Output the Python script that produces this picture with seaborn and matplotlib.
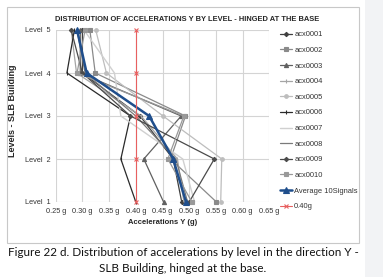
import numpy as np
import pandas as pd
import matplotlib
matplotlib.use("Agg")
import matplotlib.pyplot as plt
from matplotlib.patches import Rectangle
from matplotlib.lines import Line2D
import seaborn as sns

sns.set_style("white")
plt.rcParams['font.family'] = ['Liberation Sans', 'DejaVu Sans']

levels = [1, 2, 3, 4, 5]
level_labels = ["Level  1", "Level  2", "Level  3", "Level  4", "Level  5"]
x_ticks = [0.25, 0.30, 0.35, 0.40, 0.45, 0.50, 0.55, 0.60, 0.65]
x_tick_labels = ["0.25 g", "0.30 g", "0.35 g", "0.40 g", "0.45 g", "0.50 g", "0.55 g", "0.60 g", "0.65 g"]

acx0001 = [0.486, 0.470, 0.408, 0.300, 0.300]
acx0002 = [0.551, 0.465, 0.493, 0.324, 0.314]
acx0003 = [0.452, 0.415, 0.485, 0.296, 0.296]
acx0004 = [0.490, 0.478, 0.410, 0.289, 0.279]
acx0005 = [0.559, 0.561, 0.451, 0.345, 0.325]
acx0006 = [0.400, 0.372, 0.390, 0.271, 0.285]
acx0007 = [0.510, 0.488, 0.372, 0.360, 0.303]
acx0008 = [0.497, 0.475, 0.400, 0.305, 0.290]
acx0009 = [0.500, 0.547, 0.390, 0.300, 0.279]
acx0010 = [0.505, 0.460, 0.490, 0.290, 0.305]
average = [0.494, 0.470, 0.425, 0.308, 0.290]
limit_040 = [0.40, 0.40, 0.40, 0.40, 0.40]

series = [
    ("acx0001", acx0001, dict(color="#3f3f3f", marker="D", markersize=2.2, lw=0.9)),
    ("acx0002", acx0002, dict(color="#8a8a8a", marker="s", markersize=2.8, lw=0.9)),
    ("acx0003", acx0003, dict(color="#606060", marker="^", markersize=3.0, lw=0.9)),
    ("acx0004", acx0004, dict(color="#a5a5a5", marker="|", markersize=3.0, lw=0.9)),
    ("acx0005", acx0005, dict(color="#bdbdbd", marker="o", markersize=2.6, lw=0.9)),
    ("acx0006", acx0006, dict(color="#2a2a2a", marker="|", markersize=3.0, lw=0.9)),
    ("acx0007", acx0007, dict(color="#d0d0d0", marker=None, markersize=0, lw=1.0)),
    ("acx0008", acx0008, dict(color="#7a7a7a", marker=None, markersize=0, lw=0.9)),
    ("acx0009", acx0009, dict(color="#4a4a4a", marker="D", markersize=2.2, lw=0.9)),
    ("acx0010", acx0010, dict(color="#999999", marker="s", markersize=2.8, lw=0.9)),
    ("Average 10Signals", average, dict(color="#1f4e8c", marker="^", markersize=5, lw=1.8)),
    ("0.40g", limit_040, dict(color="#e86060", marker="x", markersize=3.2, lw=0.8)),
]

fig = plt.figure(figsize=(3.83, 2.77), dpi=100)
fig.patch.set_facecolor("white")

# chart border and side strip
fig.patches.append(Rectangle((7/383, 1 - 243/277), (358.5-7)/383, (243-7)/277,
                             transform=fig.transFigure, fill=False, edgecolor="#c8c8c8", lw=0.8, zorder=0))
fig.patches.append(Rectangle((365/383, 0), 18/383, 1, transform=fig.transFigure,
                             facecolor="#f2f3f5", edgecolor="none", zorder=0))

ax = fig.add_axes([55.7/383, 1 - 202/277, (269.3-55.7)/383, (202-30)/277])
ax.set_facecolor("white")

handles = []
for name, vals, st in series:
    df = pd.DataFrame({"x": vals, "y": levels})
    sns.lineplot(data=df, x="x", y="y", orient="y", sort=False, ax=ax,
                 color=st["color"], marker=st["marker"], markersize=st["markersize"],
                 linewidth=st["lw"], markeredgecolor=st["color"], markeredgewidth=0.8,
                 estimator=None, clip_on=False, zorder=3 if name.startswith("acx") else 4)
    handles.append(Line2D([0], [0], color=st["color"], marker=st["marker"],
                          markersize=st["markersize"], lw=st["lw"],
                          markeredgecolor=st["color"], markeredgewidth=0.8, label=name))

ax.set_xlim(0.25, 0.65)
ax.set_ylim(1, 5)
ax.set_xticks(x_ticks)
ax.set_xticklabels(x_tick_labels)
ax.set_yticks(levels)
ax.set_yticklabels(level_labels)
ax.grid(True, color="#d4d4d4", lw=0.8)
ax.set_axisbelow(True)
for s in ax.spines.values():
    s.set_visible(False)
ax.tick_params(axis="both", length=0, labelsize=5.3, colors="#333333", pad=4)
ax.set_xlabel("Accelerations Y (g)", fontsize=5.5, fontweight="bold", labelpad=3)
ax.set_ylabel("Levels - SLB Building", fontsize=6.5, fontweight="bold")
ax.yaxis.set_label_coords(-(55.7-17)/(269.3-55.7), 0.53)

fig.text(187/383, 1 - 19.5/277, "DISTRIBUTION OF ACCELERATIONS Y BY LEVEL - HINGED AT THE BASE",
         ha="center", va="center", fontsize=5.4, fontweight="bold",
         family=["Liberation Sans Narrow", "Liberation Sans", "DejaVu Sans"])

leg = fig.legend(handles=handles, loc="upper left", bbox_to_anchor=(280/383, 1 - 31/277),
                 frameon=False, fontsize=5.4, handlelength=1.6, handletextpad=0.3,
                 labelspacing=1.12, borderaxespad=0, borderpad=0)
for t in leg.get_texts():
    t.set_color("#333333")

fig.text(183/383, 1 - 253/277, "Figure 22 d. Distribution of accelerations by level in the direction Y -",
         ha="center", va="center", fontsize=8.4, color="#111111", family=["Lato", "DejaVu Sans"])
fig.text(183/383, 1 - 268/277, "SLB Building, hinged at the base.",
         ha="center", va="center", fontsize=8.4, color="#111111", family=["Lato", "DejaVu Sans"])

fig.savefig("out.png", dpi=100)
